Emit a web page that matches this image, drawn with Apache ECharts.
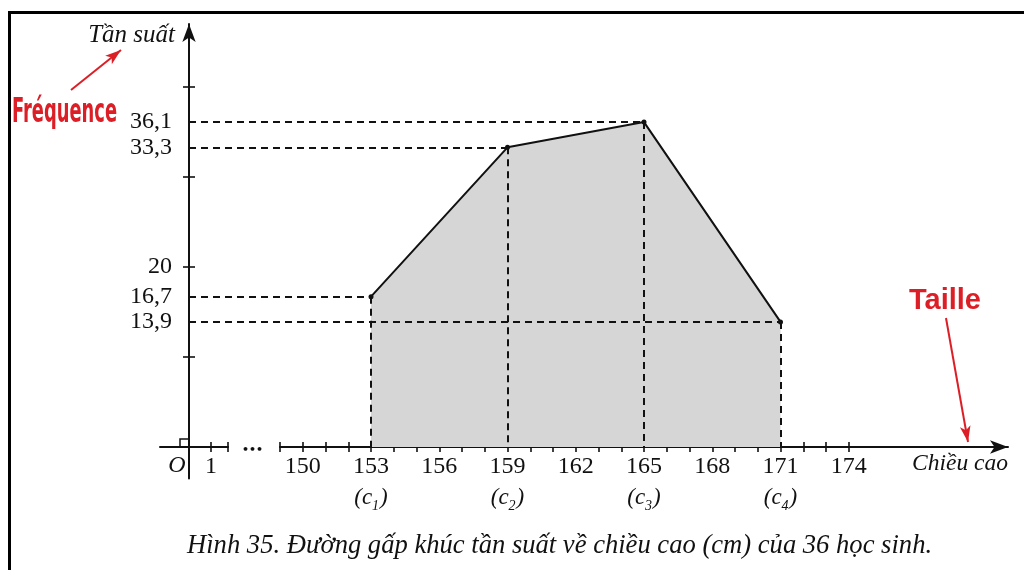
<!DOCTYPE html>
<html>
<head>
<meta charset="utf-8">
<script src="https://cdn.jsdelivr.net/npm/echarts@6/dist/echarts.min.js"></script>
<style>
  html, body { margin: 0; padding: 0; background: #fff; }
  #chart { width: 1024px; height: 570px; }
</style>
</head>
<body>
<div id="chart"></div>
<script>
// Giá trị đại diện c1..c4 của các lớp chiều cao (cm) và tần suất (%)
const heights = [153, 159, 165, 171];
const freqs = [16.7, 33.3, 36.1, 13.9];

// Vạch chia và nhãn trên hai trục
const xTicks = [149, 150, 151, 152, 153, 154, 155, 156, 157, 158, 159, 160, 161,
                162, 163, 164, 165, 166, 167, 168, 169, 170, 171, 172, 173, 174];
const xLabels = [150, 153, 156, 159, 162, 165, 168, 171, 174];
const yMajorTicks = [10, 20, 30, 40];
const yLabels = [13.9, 16.7, 20, 33.3, 36.1];
const yMinorTicks = [13.9, 16.7, 33.3, 36.1];
const nearTicks = [1, 1.77];
const nearLabels = [1];

const SERIF = "'Liberation Serif', 'DejaVu Serif', serif";
const INK = '#111';
const RED = '#dc1f26';

const Y_MAX = 47;      // đỉnh trục tung (mũi tên)
const Y_BELOW = -3.5;  // trục tung kéo dài xuống dưới gốc O

const tickStyle = { color: INK, width: 1.6 };

const plainX = (gridIndex, min, max, extra) => Object.assign({
  type: 'value', gridIndex, min, max, position: 'bottom',
  axisLine: { show: false, onZero: false },
  axisTick: { show: false }, axisLabel: { show: false }, splitLine: { show: false }
}, extra);

const plainY = (gridIndex, min, extra) => Object.assign({
  type: 'value', gridIndex, min, max: Y_MAX, position: 'left', offset: 0,
  axisLine: { show: false, onZero: false },
  axisTick: { show: false }, axisLabel: { show: false }, splitLine: { show: false }
}, extra);

// Đường tham chiếu nét đứt từ mỗi điểm đến hai trục
const guideLines = [];
heights.forEach((h, i) => {
  guideLines.push([{ coord: [145, freqs[i]] }, { coord: [h, freqs[i]] }]);
  guideLines.push([{ coord: [h, freqs[i]] }, { coord: [h, 0] }]);
});
const redArrow = { color: RED, width: 2, type: 'solid' };
const pointers = [
  [{ x: 71, y: 90, symbol: 'none' }, { x: 121, y: 50, symbol: 'arrow', lineStyle: redArrow }],
  [{ x: 946, y: 318, symbol: 'none' }, { x: 968, y: 442, symbol: 'arrow', lineStyle: redArrow }]
];

const xLabelRich = {
  n: { fontFamily: SERIF, fontSize: 24, color: INK, lineHeight: 31 },
  p: { fontFamily: SERIF, fontStyle: 'italic', fontSize: 23, color: INK, lineHeight: 31 },
  s: { fontFamily: SERIF, fontStyle: 'italic', fontSize: 14, color: INK, lineHeight: 31,
       verticalAlign: 'bottom', padding: [0, 1, 0, 0] }
};

const chart = echarts.init(document.getElementById('chart'), null, { renderer: 'canvas' });

chart.setOption({
  animation: false,
  backgroundColor: '#fff',
  title: [{
    text: 'Hình 35. Đường gấp khúc tần suất về chiều cao (cm) của 36 học sinh.',
    left: 182, top: 527,
    textStyle: { fontFamily: SERIF, fontStyle: 'italic', fontWeight: 'normal', fontSize: 26.6, color: INK }
  }, {
    text: 'Taille',
    left: 904, top: 281,
    textStyle: { fontFamily: "'Liberation Sans', Arial, sans-serif", fontWeight: 'bold', fontSize: 29, color: RED }
  }],
  grid: [
    { left: 189, top: 24, width: 819, height: 423 },     // vùng dữ liệu, hoành 145..181
    { left: 280, top: 24, width: 728, height: 423 },     // đoạn trục hoành 149..181 có mũi tên
    { left: 160, top: 24, width: 68, height: 423 },      // đoạn trục hoành gần gốc O
    { left: 189, top: 24, width: 10, height: 454.5 }     // trục tung
  ],
  xAxis: [
    plainX(0, 145, 181, {
      axisTick: { show: true, length: 5, lineStyle: tickStyle, customValues: xTicks },
      axisLabel: {
        show: true, margin: 4, lineHeight: 31,
        fontFamily: SERIF, fontSize: 24, color: INK,
        customValues: xLabels,
        formatter: (v) => {
          const i = heights.indexOf(v);
          if (i < 0) return String(v);
          return '{n|' + v + '}\n{p|(c}{s|' + (i + 1) + '}{p|)}';
        },
        rich: xLabelRich
      }
    }),
    plainX(0, 145, 181, {
      axisTick: { show: true, inside: true, length: 5, lineStyle: tickStyle, customValues: xTicks }
    }),
    plainX(1, 149, 181, {
      name: 'Chiều cao', nameLocation: 'end', nameGap: -96,
      nameTextStyle: { fontFamily: SERIF, fontStyle: 'italic', fontSize: 23.5, color: INK,
                       align: 'left', verticalAlign: 'top', padding: [5, 0, 0, 0] },
      axisLine: { show: true, onZero: false, symbol: ['none', 'arrow'], symbolSize: [10, 18],
                  lineStyle: { color: INK, width: 2 } }
    }),
    plainX(2, -1.32, 1.77, {
      axisLine: { show: true, onZero: false, lineStyle: { color: INK, width: 2 } },
      axisTick: { show: true, length: 5, lineStyle: tickStyle, customValues: nearTicks },
      axisLabel: {
        show: true, margin: 4, lineHeight: 31, fontFamily: SERIF, fontSize: 24, color: INK,
        customValues: nearLabels
      }
    }),
    plainX(2, -1.32, 1.77, {
      axisTick: { show: true, inside: true, length: 5, lineStyle: tickStyle, customValues: nearTicks }
    }),
    plainX(3, 0, 1)
  ],
  yAxis: [
    plainY(0, 0),
    plainY(1, 0),
    plainY(2, 0),
    plainY(3, Y_BELOW, {
      name: 'Tần suất', nameLocation: 'end', nameGap: -11,
      nameTextStyle: { fontFamily: SERIF, fontStyle: 'italic', fontSize: 25, color: INK,
                       align: 'right', verticalAlign: 'middle', padding: [0, 14, 0, 0] },
      axisLine: { show: true, onZero: false, symbol: ['none', 'arrow'], symbolSize: [10, 18],
                  lineStyle: { color: INK, width: 2 } },
      axisTick: { show: true, length: 6, lineStyle: tickStyle, customValues: yMajorTicks },
      axisLabel: {
        show: true, margin: 17, fontFamily: SERIF, fontSize: 24, color: INK,
        customValues: yLabels,
        formatter: (v) => String(v).replace('.', ',')
      }
    }),
    plainY(3, Y_BELOW, {
      axisTick: { show: true, inside: true, length: 6, lineStyle: tickStyle,
                  customValues: yMajorTicks.concat(yMinorTicks) }
    })
  ],
  series: [{
    type: 'line',
    xAxisIndex: 0, yAxisIndex: 0,
    data: heights.map((h, i) => [h, freqs[i]]),
    symbol: 'circle', symbolSize: 5,
    itemStyle: { color: INK },
    lineStyle: { color: INK, width: 2 },
    areaStyle: { color: '#d6d6d6', opacity: 1 },
    emphasis: { disabled: true },
    markLine: {
      silent: true,
      symbol: 'none',
      label: { show: false },
      emphasis: { disabled: true },
      lineStyle: { color: INK, width: 2, type: [7, 5] },
      data: guideLines.concat(pointers)
    }
  }],
  graphic: [{
    type: 'rect', silent: true,
    shape: { x: 9.5, y: 12.5, width: 1200, height: 800 },
    style: { fill: null, stroke: '#000', lineWidth: 3 }
  }, {
    type: 'polyline', silent: true,
    shape: { points: [[180, 447], [180, 439], [189, 439]] },
    style: { fill: null, stroke: INK, lineWidth: 1.5 }
  }, {
    // gốc tọa độ O
    type: 'text', silent: true, x: 177, y: 466,
    style: { text: 'O', font: 'italic 24px ' + SERIF, fill: INK,
             textAlign: 'center', textVerticalAlign: 'middle' }
  }, {
    type: 'text', silent: true, x: 242, y: 450,
    style: { text: '•••', font: 'bold 11px "DejaVu Sans", sans-serif', fill: INK, textVerticalAlign: 'middle' }
  }, {
    type: 'text', silent: true, x: 12, y: 96, scaleX: 0.585,
    style: { text: 'Fréquence', font: 'bold 34px "Liberation Sans Narrow", "DejaVu Sans Condensed", sans-serif', fill: RED }
  }]
});
</script>
</body>
</html>
